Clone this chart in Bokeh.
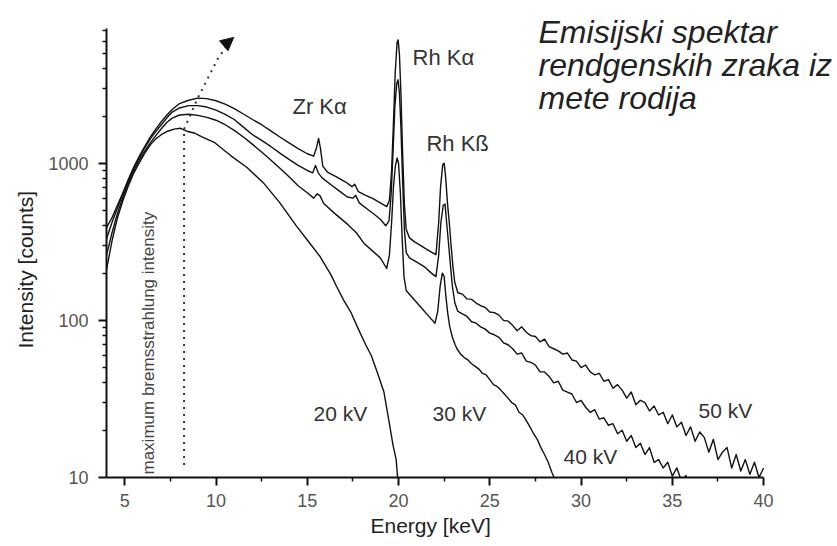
from bokeh.plotting import figure
from bokeh.models import Range1d, FixedTicker, NumeralTickFormatter, Label, Arrow, NormalHead, Title
from bokeh.embed import file_html
from bokeh.resources import INLINE

# ---------------- data ----------------
e20 = [4.0, 4.3, 4.6, 4.9, 5.2, 5.5, 5.8, 6.1, 6.4, 6.7, 7.0, 7.35, 7.7, 8.06, 8.4, 8.8,
       9.2, 9.9, 10.8, 11.7, 12.6, 13.5, 14.4, 15.0, 15.7, 16.3, 16.6, 17.0, 17.4, 17.8,
       18.2, 18.5, 18.8, 19.2, 19.5, 19.7, 19.87, 19.95, 20.0]
i20 = [210, 320, 450, 580, 720, 870, 1010, 1160, 1310, 1430, 1520, 1600, 1650, 1670, 1600, 1560,
       1480, 1360, 1120, 940, 750, 560, 400, 325, 255, 195, 165, 134, 112, 88,
       70, 60, 48, 35, 22, 16, 13, 10, 8]

e30 = [4.0, 4.3, 4.6, 4.9, 5.2, 5.5, 5.8, 6.1, 6.4, 6.7, 7.0, 7.3, 7.6, 8.0, 8.5, 9.0, 9.5,
       10.0, 10.5, 11.0, 11.5, 12.0, 12.5, 13.0, 13.5, 14.0, 14.5, 15.0, 15.35, 15.55, 15.7,
       15.9, 16.5, 17.2, 17.7, 18.1, 18.6, 19.0, 19.35, 19.5, 19.62, 19.72, 19.82, 19.92, 20.0,
       20.1, 20.2, 20.3, 20.42, 20.8, 21.2, 21.6, 22.0, 22.15, 22.28, 22.4, 22.5, 22.6, 22.7,
       22.8, 22.95, 23.1, 23.2, 23.4, 23.6, 23.8, 24.0, 24.2, 24.4, 24.6, 24.8, 25.0, 25.2,
       25.4, 25.6, 25.8, 26.0, 26.2, 26.4, 26.6, 26.8, 27.0, 27.2, 27.4, 27.6, 27.8, 28.0,
       28.2, 28.4, 28.6, 28.8]
i30 = [260, 360, 480, 610, 750, 900, 1050, 1200, 1350, 1500, 1660, 1820, 1940, 2030, 2050, 2020, 1960,
       1880, 1760, 1620, 1470, 1320, 1180, 1050, 930, 820, 720, 650, 600, 640, 620,
       555, 480, 410, 360, 310, 275, 250, 214, 260, 420, 700, 950, 1080, 1000,
       650, 330, 190, 155, 138, 122, 108, 96, 115, 165, 200, 190, 140, 110,
       92, 78, 70, 66, 61, 58, 56, 53, 51, 49, 46, 45, 42, 39,
       38, 36, 34, 32, 30, 29, 26, 25, 23, 21, 19, 17.5, 15.5, 14,
       12.5, 10.8, 9.5, 8.5]

e40 = [4.0, 4.3, 4.6, 4.9, 5.2, 5.5, 5.8, 6.1, 6.4, 6.7, 7.0, 7.3, 7.6, 8.0, 8.5, 9.0, 9.5,
       10.0, 10.5, 11.0, 11.5, 12.0, 12.5, 13.0, 13.5, 14.0, 14.5, 15.0, 15.3, 15.45, 15.6,
       15.8, 16.3, 16.8, 17.2, 17.5, 17.65, 17.85, 18.3, 18.7, 19.0, 19.3, 19.48, 19.6, 19.7,
       19.8, 19.9, 19.97, 20.05, 20.13, 20.22, 20.32, 20.42, 20.6, 21.0, 21.4, 21.8, 22.05,
       22.2, 22.32, 22.45, 22.55, 22.65, 22.75, 22.85, 22.95, 23.08,
       23.25, 23.5, 23.75, 24.0, 24.25, 24.5, 24.75, 25.0, 25.25, 25.5, 25.75, 26.0, 26.25,
       26.5, 26.75, 27.0, 27.25, 27.5, 27.75, 28.0, 28.25, 28.5, 28.75, 29.0, 29.25, 29.5,
       29.75, 30.0, 30.25, 30.5, 30.75, 31.0, 31.25, 31.5, 31.75, 32.0, 32.25, 32.5, 32.75,
       33.0, 33.25, 33.5, 33.75, 34.0, 34.25, 34.5, 34.75, 35.0, 35.25, 35.5, 35.75, 36.0]
i40 = [330, 420, 520, 640, 780, 930, 1090, 1260, 1430, 1590, 1760, 1940, 2120, 2250, 2330, 2330, 2280,
       2180, 2050, 1900, 1700, 1520, 1400, 1280, 1160, 1060, 970, 900, 870, 970, 870,
       810, 730, 660, 610, 600, 625, 560, 510, 470, 440, 400, 430, 650, 1200,
       2300, 3200, 3400, 2800, 1700, 800, 380, 270, 250, 235, 220, 200, 190,
       260, 420, 540, 550, 400, 300, 220, 165, 130,
       114, 110, 106, 98, 96, 91, 88, 83, 81, 78, 72, 70, 66,
       61, 62, 55, 54, 52, 47, 47, 44, 40, 41, 36, 35, 34,
       30, 31, 28, 26, 27, 23.5, 24, 21.5, 22, 19, 20, 17, 18.5,
       15.5, 16.5, 14, 15.5, 12.5, 13, 11.5, 12.5, 10.2, 11.5, 9.5, 10.3, 8.5]

e50 = [4.0, 4.3, 4.6, 4.9, 5.2, 5.5, 5.8, 6.1, 6.4, 6.7, 7.0, 7.3, 7.6, 8.0, 8.5, 9.0, 9.5,
       10.0, 10.5, 11.0, 11.5, 12.0, 12.5, 13.0, 13.5, 14.0, 14.5, 15.0, 15.35, 15.5, 15.62,
       15.72, 15.85, 16.1, 16.6, 17.1, 17.45, 17.6, 17.8, 18.2, 18.6, 19.0, 19.35, 19.5, 19.62,
       19.72, 19.82, 19.92, 19.98, 20.05, 20.13, 20.22, 20.32, 20.42, 20.6, 20.9, 21.2, 21.5,
       21.8, 22.05, 22.2, 22.3, 22.42, 22.5, 22.58, 22.68, 22.78, 22.88, 22.98, 23.08,
       23.25, 23.5, 23.75, 24.0, 24.25, 24.5, 24.75, 25.0, 25.25, 25.5, 25.75, 26.0, 26.25,
       26.5, 26.75, 27.0, 27.25, 27.5, 27.75, 28.0, 28.25, 28.5, 28.75, 29.0, 29.25, 29.5,
       29.75, 30.0, 30.25, 30.5, 30.75, 31.0, 31.25, 31.5, 31.75, 32.0, 32.25, 32.5, 32.75,
       33.0, 33.25, 33.5, 33.75, 34.0, 34.25, 34.5, 34.75, 35.0, 35.25, 35.5, 35.75, 36.0,
       36.25, 36.5, 36.75, 37.0, 37.25, 37.5, 37.75, 38.0, 38.25, 38.5, 38.75, 39.0, 39.25,
       39.5, 39.75, 40.0]
i50 = [390, 450, 540, 650, 790, 950, 1110, 1280, 1470, 1650, 1840, 2020, 2200, 2400, 2520, 2600, 2580,
       2500, 2380, 2230, 2060, 1900, 1760, 1610, 1470, 1350, 1240, 1150, 1110, 1250, 1440,
       1250, 960, 880, 820, 760, 710, 735, 660, 625, 595, 560, 530, 580, 900,
       1800, 3800, 5900, 6100, 4900, 2800, 1200, 550, 380, 335, 315, 300, 285,
       272, 262, 420, 700, 980, 1000, 820, 560, 420, 300, 220, 175,
       150, 147, 137, 136, 129, 124, 121, 113, 112, 108, 100, 99, 93,
       86, 91, 84, 80, 79, 73, 76, 68, 66, 64, 61, 62, 56,
       55, 50, 52, 47, 45, 46, 41, 42, 37, 39, 36, 32, 35,
       29, 31, 30, 26.5, 28.5, 25, 26, 22, 25, 21, 22.5, 18.5, 21,
       17, 19.5, 18, 14.5, 17.5, 13, 14.5, 15.5, 11.5, 14, 11, 13, 10.5,
       12.5, 10, 11.5]

# maximum-bremsstrahlung marker (dotted vertical line + dotted arrow)
max_line_e = [8.25, 8.25]
max_line_i = [12, 1650]
max_arrow_e = [8.25, 9.0, 10.1, 10.55]
max_arrow_i = [1650, 2600, 4640, 5500]

x_ticks = [5, 10, 15, 20, 25, 30, 35, 40]
x_minor = [7.5, 12.5, 17.5, 22.5, 27.5, 32.5, 37.5]
y_ticks = [10, 100, 1000]
y_minor = [20, 30, 40, 50, 60, 70, 80, 90, 200, 300, 400, 500, 600, 700, 800, 900,
           2000, 3000, 4000, 5000, 6000, 7000]

peak_labels = ["Zr K\u03b1", "Rh K\u03b1", "Rh K\u00df"]
voltage_labels = ["20 kV", "30 kV", "40 kV", "50 kV"]
title_lines = ["Emisijski spektar", "rendgenskih zraka iz", "mete rodija"]

# ---------------- figure ----------------
FONT = "Liberation Sans"
# frame spans to the right edge and top edge of the canvas so the title is not clipped;
# the axes are bounded to the data extent 4-40 keV and 10-7200 counts.
p = figure(width=837, height=546, x_range=Range1d(4, 44.05), y_range=Range1d(10, 10870),
           y_axis_type="log", output_backend="svg", toolbar_location=None,
           min_border_left=106, min_border_right=0, min_border_top=0, min_border_bottom=69)
p.outline_line_color = None
p.grid.visible = False
p.background_fill_color = "white"
p.border_fill_color = "white"

for e, i in [(e20, i20), (e30, i30), (e40, i40), (e50, i50)]:
    p.line(e, i, line_color="#111111", line_width=1.4, line_join="round")

p.line(max_line_e, max_line_i, line_color="#333333", line_width=2, line_dash="2 5")
p.line(max_arrow_e, max_arrow_i, line_color="#333333", line_width=2, line_dash="2 5")
p.add_layout(Arrow(end=NormalHead(size=13, fill_color="#111111", line_color="#111111"),
                   x_start=10.35, y_start=5500, x_end=10.97, y_end=6330, line_alpha=0))

# axes
p.xaxis.ticker = FixedTicker(ticks=x_ticks, minor_ticks=x_minor)
p.yaxis.ticker = FixedTicker(ticks=y_ticks, minor_ticks=y_minor)
p.yaxis.formatter = NumeralTickFormatter(format="0")
p.xaxis.bounds = (4, 40)
p.yaxis.bounds = (10, 7200)
for ax in (p.xaxis[0], p.yaxis[0]):
    ax.axis_line_width = 2
    ax.axis_line_color = "#111111"
    ax.major_tick_line_width = 2
    ax.major_tick_line_color = "#111111"
    ax.minor_tick_line_width = 1.5
    ax.minor_tick_line_color = "#111111"
    ax.major_tick_out = 8
    ax.major_tick_in = 0
    ax.minor_tick_out = 4
    ax.minor_tick_in = 0
    ax.major_label_text_font = FONT
    ax.major_label_text_font_size = "18px"
    ax.major_label_text_color = "#555555"
p.yaxis.major_label_standoff = 10
p.xaxis.major_label_standoff = 8

# axis titles placed as side titles so they sit under / beside the bounded axes
p.add_layout(Title(text="Energy [keV]", align="left", offset=264, standoff=4,
                   text_font=FONT, text_font_size="21px", text_font_style="normal",
                   text_color="#222222"), "below")
p.add_layout(Title(text="Intensity [counts]", align="left", offset=129, standoff=18,
                   text_font=FONT, text_font_size="21px", text_font_style="normal",
                   text_color="#222222"), "left")

# annotations
peak_pos = [(14.19, 2300), (20.77, 4710), (21.53, 1337)]
for t, (x, y) in zip(peak_labels, peak_pos):
    p.add_layout(Label(x=x, y=y, text=t, text_font=FONT, text_font_size="22px",
                       text_color="#333333", text_align="left", text_baseline="middle"))

volt_pos = [(15.34, 25.5), (21.86, 25.5), (29.04, 13.6), (36.44, 26.7)]
for t, (x, y) in zip(voltage_labels, volt_pos):
    p.add_layout(Label(x=x, y=y, text=t, text_font=FONT, text_font_size="21px",
                       text_color="#333333", text_align="left", text_baseline="middle"))

p.add_layout(Label(x=6.30, y=10.45, text="maximum bremsstrahlung intensity", angle=1.5707963,
                   text_font=FONT, text_font_size="17px", text_color="#444444",
                   text_align="left", text_baseline="middle"))

title_pos = [(27.67, 6810), (27.67, 4200), (27.67, 2590)]
for t, (x, y) in zip(title_lines, title_pos):
    p.add_layout(Label(x=x, y=y, text=t, text_font=FONT, text_font_size="32px",
                       text_font_style="italic", text_color="#222222",
                       text_align="left", text_baseline="middle"))

open("out.html", "w").write(file_html(p, INLINE))
